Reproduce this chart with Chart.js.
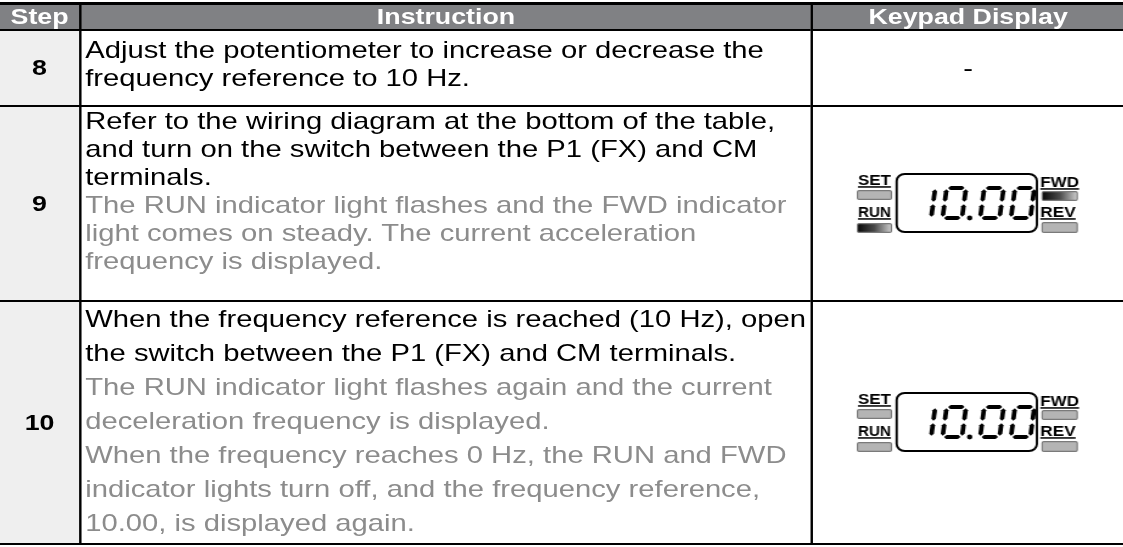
<!DOCTYPE html>
<html lang="en">
<head>
  <meta charset="UTF-8">
  <title>Step / Instruction / Keypad Display</title>
  <script src="https://cdn.jsdelivr.net/npm/chart.js"></script>
  <style>
    html, body {
      margin: 0;
      padding: 0;
      background: #fff;
      overflow: hidden;
    }
    /* the source picture is stretched sideways, so the whole page is too */
    #page {
      width: 923px;
      transform: scaleX(1.217);
      transform-origin: 0 0;
      font-family: "Liberation Sans", Arial, sans-serif;
    }
    table {
      width: 923px;
      border-collapse: separate;
      border-spacing: 0;
      table-layout: fixed;
      margin-top: 2px;
      border-top: 3px solid #000;
      border-bottom: 2px solid #000;
    }
    th {
      background: #808184;
      color: #fff;
      font-size: 22px;
      font-weight: bold;
      padding: 0;
      line-height: 24px;
    }
    td {
      border-top: 2px solid #000;
      padding: 0 0 0 3px;
      vertical-align: top;
      font-size: 24px;
      color: #000;
      white-space: nowrap;
    }
    th + th, td + td {
      border-left: 2px solid #000;
    }
    td.step {
      background: #efefef;
      text-align: center;
      vertical-align: middle;
      font-weight: bold;
      font-size: 22px;
      padding: 0;
    }
    td.keypad {
      text-align: center;
      vertical-align: middle;
      padding: 0;
    }
    .note {
      color: #8c8c8c;
    }
    td.keypad canvas {
      margin: 0 auto;
    }
  </style>
</head>
<body>
  <div id="page">
    <table>
      <colgroup>
        <col style="width:65px">
        <col style="width:601px">
        <col>
      </colgroup>
      <thead>
        <tr style="height:24px">
          <th id="h0"></th>
          <th id="h1"></th>
          <th id="h2"></th>
        </tr>
      </thead>
      <tbody id="rows"></tbody>
    </table>
  </div>

  <script>
    // table content
    const headers = ['Step', 'Instruction', 'Keypad Display'];
    const steps = ['8', '9', '10'];

    const instructions = [
      ['Adjust the potentiometer to increase or decrease the', 'frequency reference to 10 Hz.'],
      ['Refer to the wiring diagram at the bottom of the table,', 'and turn on the switch between the P1 (FX) and CM', 'terminals.'],
      ['When the frequency reference is reached (10 Hz), open', 'the switch between the P1 (FX) and CM terminals.']
    ];
    const notes = [
      [],
      [['The RUN indicator light flashes and the FWD indicator', 'light comes on steady. The current acceleration', 'frequency is displayed.']],
      [['The RUN indicator light flashes again and the current', 'deceleration frequency is displayed.'],
       ['When the frequency reaches 0 Hz, the RUN and FWD', 'indicator lights turn off, and the frequency reference,', '10.00, is displayed again.']]
    ];

    // keypad display for each step (null = "-")
    const readings = [null, '10.00', '10.00'];
    const setLamp = [null, 'off', 'off'];
    const runLamp = [null, 'flash', 'off'];
    const fwdLamp = [null, 'on', 'off'];
    const revLamp = [null, 'off', 'off'];

    // row layout (px): height, text line height, text top padding
    const rowLayout = [
      { h: 76, lh: 28, pad: 5 },
      { h: 195, lh: 28, pad: 0 },
      { h: 243, lh: 34, pad: 0 }
    ];
    const KX = 1.14 / 1.217;   // keypad drawing was laid out for a 1.14 stretch

    headers.forEach((h, i) => { document.getElementById('h' + i).textContent = h; });

    const tbody = document.getElementById('rows');
    steps.forEach((s, i) => {
      const tr = document.createElement('tr');
      tr.style.height = rowLayout[i].h + 'px';

      const tdStep = document.createElement('td');
      tdStep.className = 'step';
      tdStep.textContent = s;
      tr.appendChild(tdStep);

      const tdText = document.createElement('td');
      tdText.style.lineHeight = rowLayout[i].lh + 'px';
      tdText.style.paddingTop = rowLayout[i].pad + 'px';
      let html = '<div>' + instructions[i].join('<br>') + '</div>';
      notes[i].forEach((p) => { html += '<div class="note">' + p.join('<br>') + '</div>'; });
      tdText.innerHTML = html;
      tr.appendChild(tdText);

      const tdKey = document.createElement('td');
      tdKey.className = 'keypad';
      if (readings[i] === null) {
        tdKey.textContent = '-';
      } else {
        const c = document.createElement('canvas');
        c.id = 'keypad-' + s;
        c.width = Math.round(196 * KX);
        c.height = 62;
        tdKey.appendChild(c);
      }
      tr.appendChild(tdKey);
      tbody.appendChild(tr);
    });

    const SEGMENTS = {
      '0': 'abcdef', '1': 'bc', '2': 'abged', '3': 'abgcd', '4': 'fgbc',
      '5': 'afgcd', '6': 'afgedc', '7': 'abc', '8': 'abcdefg', '9': 'abcdfg'
    };

    function lampFill(ctx, x, w, state) {
      if (state === 'off') return '#b4b4b4';
      const g = ctx.createLinearGradient(x, 0, x + w, 0);
      g.addColorStop(0, '#050505');
      g.addColorStop(0.5, '#4a4a4a');
      g.addColorStop(1, '#d4d4d4');
      return g;
    }

    function drawLamp(ctx, x, y, w, h, state) {
      ctx.fillStyle = lampFill(ctx, x, w, state);
      ctx.strokeStyle = '#7a7a7a';
      ctx.lineWidth = 1.2;
      ctx.beginPath();
      ctx.roundRect(x + 0.6, y + 0.6, w - 1.2, h - 1.2, 1.5);
      ctx.fill();
      ctx.stroke();
    }

    function drawLabel(ctx, text, x, y, w) {
      ctx.fillStyle = '#000';
      ctx.font = 'bold 15px "Liberation Sans Narrow", "Liberation Sans", Arial';
      ctx.textBaseline = 'alphabetic';
      ctx.textAlign = 'left';
      const tw = ctx.measureText(text).width;
      ctx.save();
      ctx.translate(x, y);
      ctx.scale(w / tw, 1);
      ctx.fillText(text, 0, 0);
      ctx.restore();
      ctx.fillRect(x, y + 1.2, w, 1.5);
    }

    function drawDigit(ctx, ch, x, top, w, h) {
      const segs = SEGMENTS[ch] || '';
      const t = 4;       // segment thickness
      const g = 1.3;     // gap between segments
      const slant = 0.12;
      const P = (px, py) => [x + px + (h - py) * slant, top + py];
      const hor = (yc) => [
        [t / 2 + g, yc], [t + g, yc - t / 2], [w - t - g, yc - t / 2],
        [w - t / 2 - g, yc], [w - t - g, yc + t / 2], [t + g, yc + t / 2]
      ];
      const ver = (xc, y0, y1) => [
        [xc, y0], [xc + t / 2, y0 + t / 2], [xc + t / 2, y1 - t / 2],
        [xc, y1], [xc - t / 2, y1 - t / 2], [xc - t / 2, y0 + t / 2]
      ];
      const mid = h / 2;
      const shapes = {
        a: hor(t / 2),
        g: hor(mid),
        d: hor(h - t / 2),
        f: ver(t / 2, t / 2 + g, mid - g),
        b: ver(w - t / 2, t / 2 + g, mid - g),
        e: ver(t / 2, mid + g, h - t / 2 - g),
        c: ver(w - t / 2, mid + g, h - t / 2 - g)
      };
      ctx.fillStyle = '#000';
      for (const s of segs) {
        const q = shapes[s].map((p) => P(p[0], p[1]));
        ctx.beginPath();
        ctx.moveTo(q[0][0], q[0][1]);
        q.slice(1).forEach((p) => ctx.lineTo(p[0], p[1]));
        ctx.closePath();
        ctx.fill();
      }
    }

    const keypadPlugin = {
      id: 'keypad',
      afterDraw(chart) {
        const ctx = chart.ctx;
        const i = chart.options.plugins.keypad.row;
        ctx.save();
        ctx.scale(KX, 1);

        drawLabel(ctx, 'SET', 1, 12, 29);
        drawLamp(ctx, 0, 17, 31, 10, setLamp[i]);
        drawLabel(ctx, 'RUN', 1, 44, 29);
        drawLamp(ctx, 0, 50, 31, 10, runLamp[i]);

        drawLabel(ctx, 'FWD', 161, 14, 34);
        drawLamp(ctx, 162, 18, 32, 10, fwdLamp[i]);
        drawLabel(ctx, 'REV', 161, 44, 31);
        drawLamp(ctx, 162, 49, 32, 11, revLamp[i]);

        // display window
        ctx.strokeStyle = '#000';
        ctx.lineWidth = 2;
        ctx.beginPath();
        ctx.roundRect(35, 1, 123, 58, 7);
        ctx.stroke();

        // digits
        let x = 46;
        for (const ch of readings[i]) {
          if (ch === '.') {
            ctx.fillStyle = '#000';
            ctx.beginPath();
            ctx.arc(x - 1, 45, 2.4, 0, Math.PI * 2);
            ctx.fill();
            x += 6;
          } else {
            drawDigit(ctx, ch, x, 13, 21, 34);
            x += 27;
          }
        }
        ctx.restore();
      }
    };

    readings.forEach((r, i) => {
      if (r === null) return;
      new Chart(document.getElementById('keypad-' + steps[i]), {
        type: 'bar',
        data: { labels: [], datasets: [] },
        options: {
          responsive: false,
          animation: false,
          events: [],
          plugins: { legend: { display: false }, tooltip: { enabled: false }, keypad: { row: i } },
          scales: { x: { display: false }, y: { display: false } }
        },
        plugins: [keypadPlugin]
      });
    });
  </script>
</body>
</html>
